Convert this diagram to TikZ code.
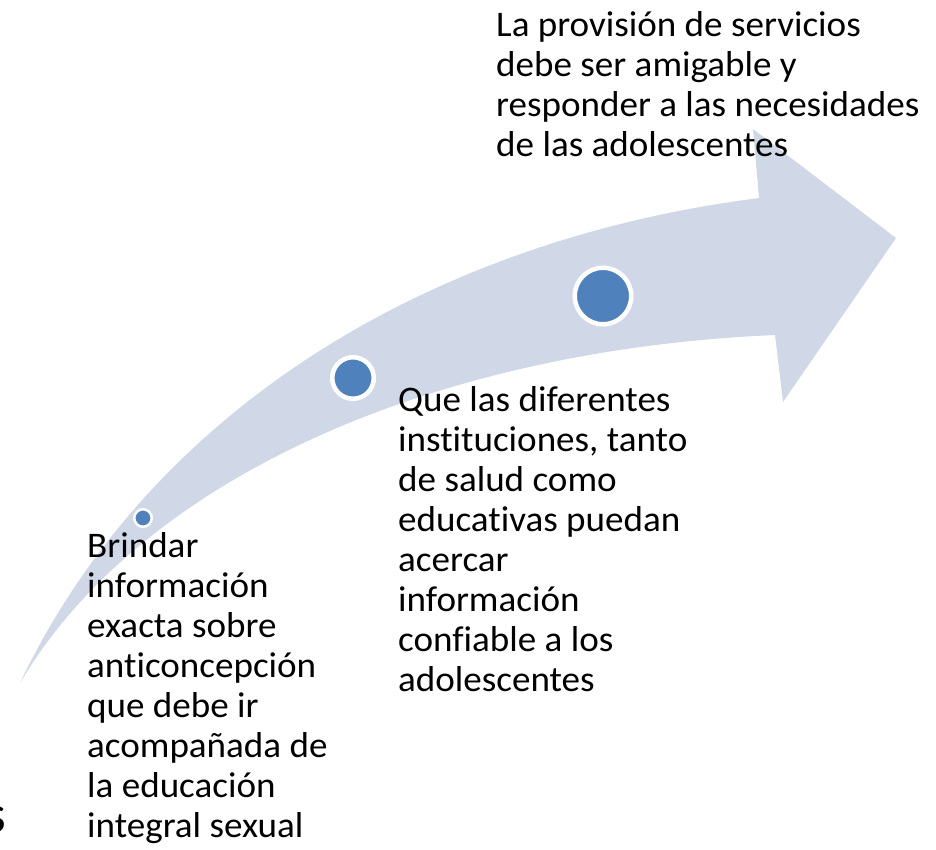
\documentclass[tikz,border=0pt]{standalone}
\usepackage{fontspec}
\setmainfont{Carlito}[Ligatures=NoCommon, FakeStretch=1.03]
\usepackage{xcolor}
\usepackage{tikz}
\usetikzlibrary{positioning}
\definecolor{shaftgray}{HTML}{D0D8E8}
\definecolor{dotblue}{HTML}{4F81BD}

\begin{document}
\begin{tikzpicture}[
    x=1pt, y=-1pt,
    font=\fontsize{36}{40}\selectfont,
    dot/.style={
		circle,
		fill=dotblue,
		draw=white,
		inner sep=0pt
	},
	blurb/.style={
		anchor=base west,
		inner sep=0pt,
		text=black
	}
  ]
  \useasboundingbox (0,0) rectangle (936,849);

    % We start by drawing the curved arrow
  \fill [shaftgray] (20,683) .. controls (150,410) and (430,240) .. (759,198)
      -- (753,129) -- (896,238) -- (783,402) -- (775,335)
      .. controls (430,350) and (140,480) .. (20,683) -- cycle;

    % then the dots along it
  \node [dot, minimum size=17.5pt, line width=2.5pt] (dot1) at (143,518) {};
  \node [dot, minimum size=41.5pt, line width=4.5pt] (dot2) at (353,378) {};
  \node [dot, minimum size=56.5pt, line width=4.5pt] (dot3) at (603,296) {};

    % and the texts
  \node [blurb] (text1) at (87,557)
 {%
 \begin{tabular}[t]{@{}l@{}}
  Brindar\\
  información\\
  exacta sobre\\
  anticoncepción\\
  que debe ir\\
  acompañada de\\
  la educación\\
  integral sexual
 \end{tabular}
 };

  \node [blurb] (text2) at (398,411)
 {%
 \begin{tabular}[t]{@{}l@{}}
  Que las diferentes\\
  instituciones, tanto\\
  de salud como\\
  educativas puedan\\
  acercar\\
  información\\
  confiable a los\\
  adolescentes
 \end{tabular}
 };

  \node [blurb] (text3) at (496,36)
 {%
 \begin{tabular}[t]{@{}l@{}}
  La provisión de servicios\\
  debe ser amigable y\\
  responder a las necesidades\\
  de las adolescentes
 \end{tabular}
 };

  \node [anchor=base east, inner sep=0pt] (cut) at (6.5,832)
   {\fontsize{54}{60}\selectfont s};

\end{tikzpicture}
\end{document}
